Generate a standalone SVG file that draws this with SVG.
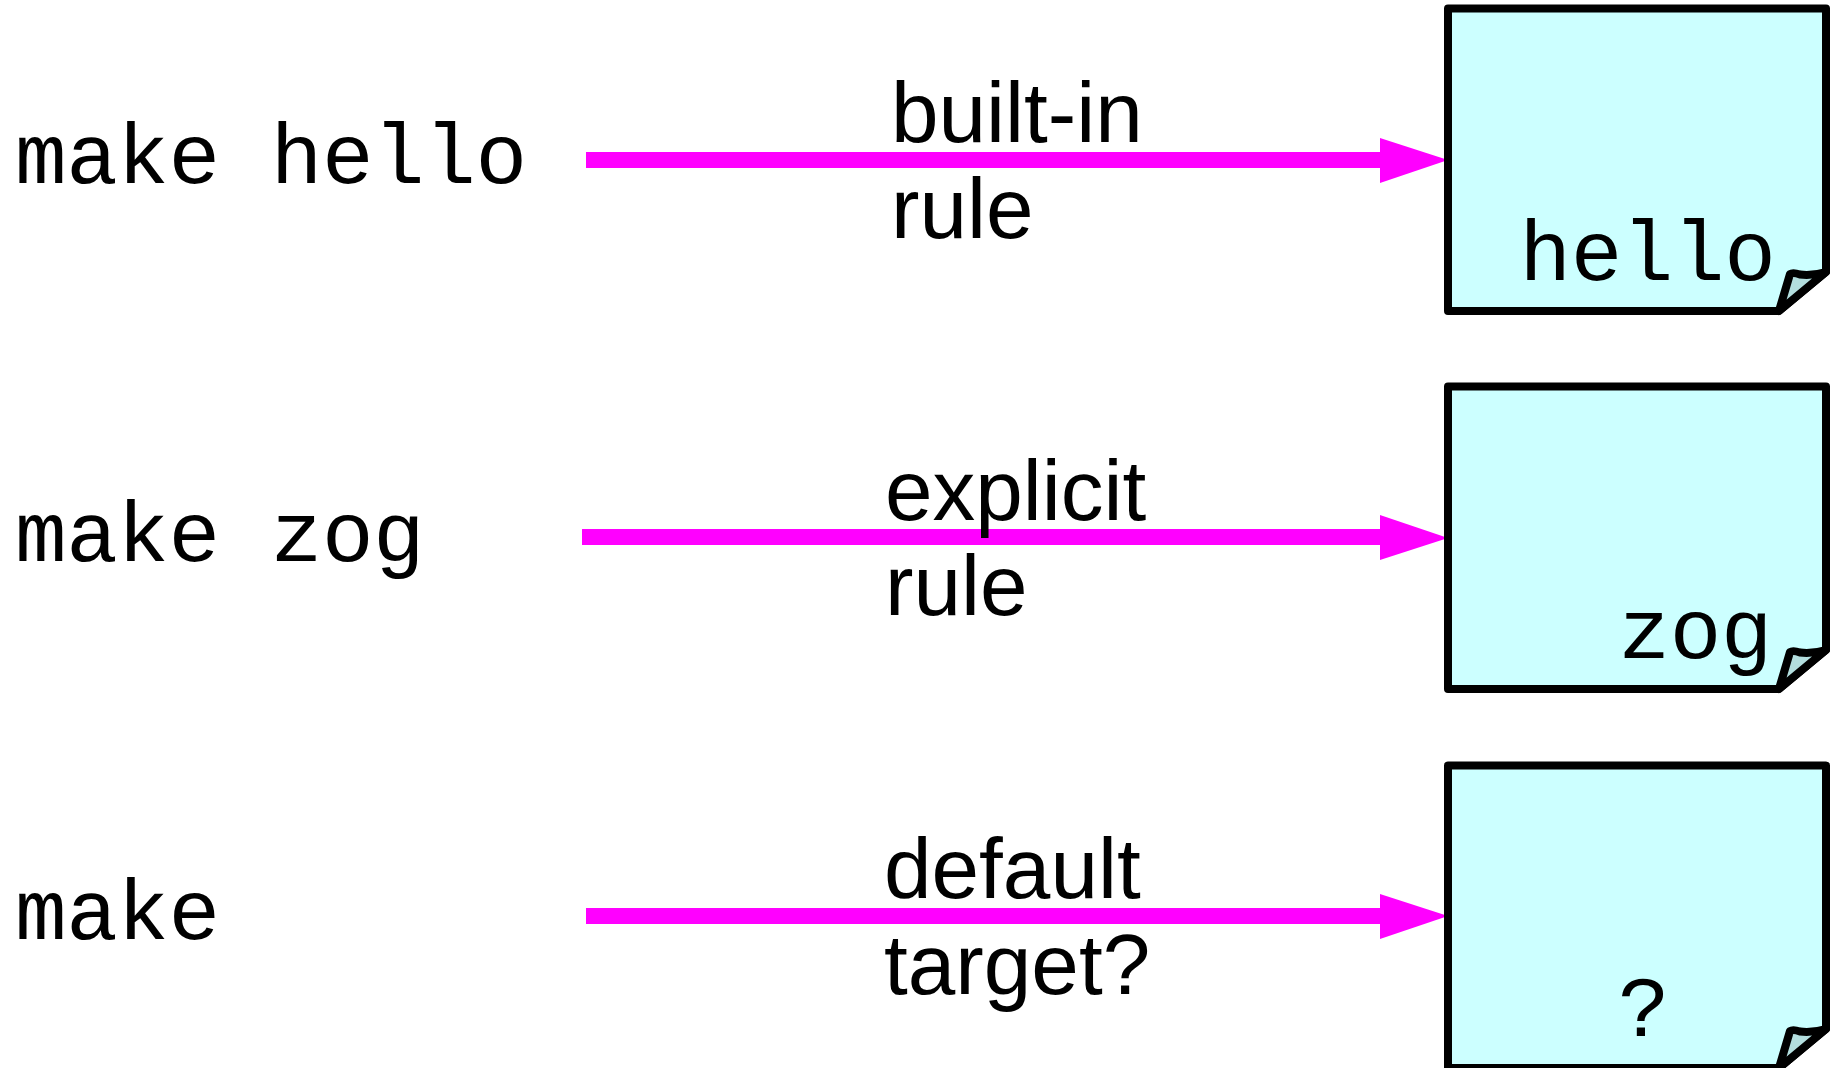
<svg xmlns="http://www.w3.org/2000/svg" width="1830" height="1068" viewBox="0 0 1830 1068">
<style>
.m{font-family:"Liberation Mono",monospace;font-size:86px;letter-spacing:-0.45px;fill:#000}
.s{font-family:"Liberation Sans",Arial,sans-serif;font-size:85.5px;fill:#000}
.page{fill:#ccffff;stroke:#000;stroke-width:8;stroke-linejoin:round}
.fold{fill:#b3dede;stroke:#000;stroke-width:8;stroke-linejoin:round}
.c{stroke:#ff00ff;stroke-width:16;fill:none}
.h{fill:#ff00ff}
</style>
<defs>
<g id="doc">
<path class="page" d="M1448 8.5H1826V272L1779 311H1448Z"/>
<path class="fold" d="M1779 311L1790 274Q1793 272 1800 274.5Q1812 276 1826 272Z"/>
</g>
</defs>
<g id="connectors">
<path class="c" d="M586 160H1385"/><path class="h" d="M1380 138L1448 160L1380 183Z"/>
<path class="c" d="M582 537H1385"/><path class="h" d="M1380 515L1448 538L1380 560Z"/>
<path class="c" d="M586 916H1385"/><path class="h" d="M1380 894L1448 916L1380 939Z"/>
</g>
<g id="cmd1"><text class="m" x="15" y="183">make hello</text></g>
<g id="cmd2"><text class="m" x="15" y="561">make zog</text></g>
<g id="cmd3"><text class="m" x="15" y="939">make</text></g>
<g id="label1"><text class="s" x="891" y="142">built-in</text><text class="s" x="891" y="238">rule</text></g>
<g id="label2"><text class="s" x="885" y="520">explicit</text><text class="s" x="885" y="615">rule</text></g>
<g id="label3"><text class="s" x="884" y="898">default</text><text class="s" x="884" y="994">target?</text></g>
<g id="file1"><use href="#doc"/><text class="m" x="1519.5" y="280">hello</text></g>
<g id="file2"><use href="#doc" y="378"/><text class="m" x="1618.5" y="658">zog</text></g>
<g id="file3"><use href="#doc" y="757"/><text class="m" x="1618" y="1036">?</text></g>
</svg>
